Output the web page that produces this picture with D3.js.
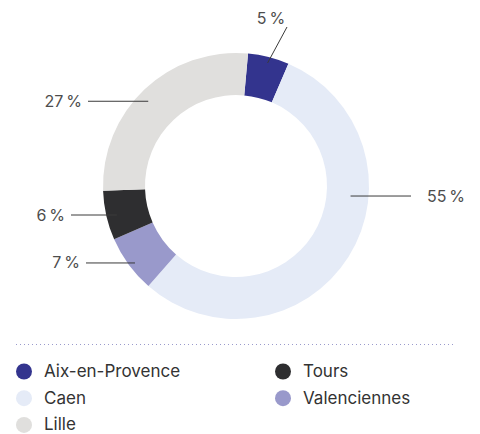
<!DOCTYPE html>
<html><head><meta charset="utf-8">
<script src="https://cdn.jsdelivr.net/npm/d3@7"></script>
<style>
html,body{margin:0;padding:0;background:#fff;}
svg{display:block;font-family:Inter,"Noto Sans",sans-serif;}
</style></head>
<body>
<svg id="chart" width="480" height="434"></svg>
<script>
// Data (in drawing order, clockwise)
const categories = ["Aix-en-Provence", "Caen", "Valenciennes", "Tours", "Lille"];
const values = [5, 55, 7, 6, 27];
const labels = ["5\u202F%", "55\u202F%", "7\u202F%", "6\u202F%", "27\u202F%"];
const colors = ["#33348e", "#e5ebf7", "#9999cb", "#2e2e30", "#e0dfdd"];
// Legend order
const legendCol1 = ["Aix-en-Provence", "Caen", "Lille"];
const legendCol2 = ["Tours", "Valenciennes"];

// Layout
const cx = 236, cy = 186, rOuter = 133, rInner = 91;
const startDeg = 5.2;
const leaders = {
  "Aix-en-Provence": {a: 14.4, r: 127, ex: 287, ey: 27, side: "top"},
  "Caen": {a: 95, r: 115, ex: 411, side: "right"},
  "Valenciennes": {a: 232.7, r: 127, ex: 86, side: "left"},
  "Tours": {a: 256.3, r: 122.5, ex: 71, side: "left"},
  "Lille": {a: 314, r: 122, ex: 88, side: "left"}
};

const svg = d3.select("#chart");
const g = svg.append("g").attr("transform", `translate(${cx},${cy})`);

const pie = d3.pie().sort(null).value(d => d.v)
  .startAngle(startDeg * Math.PI / 180)
  .endAngle((startDeg + 360) * Math.PI / 180);
const data = categories.map((c, i) => ({c, v: values[i], color: colors[i], label: labels[i]}));
const arcs = pie(data);
const arc = d3.arc().innerRadius(rInner).outerRadius(rOuter);

g.selectAll("path.slice").data(arcs).join("path")
  .attr("class", "slice")
  .attr("d", arc)
  .attr("fill", d => d.data.color);

const polar = (deg, r) => {
  const a = deg * Math.PI / 180;
  return [cx + r * Math.sin(a), cy - r * Math.cos(a)];
};

arcs.forEach(d => {
  const L = leaders[d.data.c];
  const [sx, sy] = polar(L.a, L.r);
  let ex, ey;
  if (L.side === "top") { ex = L.ex; ey = L.ey; }
  else { ex = L.ex; ey = sy; }
  svg.append("line")
    .attr("x1", sx).attr("y1", sy).attr("x2", ex).attr("y2", ey)
    .attr("stroke", "#3a3a3a").attr("stroke-width", 1);
  const t = svg.append("text")
    .attr("fill", "#4d4d4d").attr("font-size", 16).text(d.data.label);
  if (L.side === "top") {
    t.attr("x", ex - 16).attr("y", ey - 3).attr("text-anchor", "middle");
  } else if (L.side === "left") {
    t.attr("x", ex - 6).attr("y", ey + 5.5).attr("text-anchor", "end");
  } else {
    t.attr("x", ex + 16).attr("y", ey + 5.5).attr("text-anchor", "start");
  }
});

// Dotted separator
svg.append("line")
  .attr("x1", 16).attr("x2", 455).attr("y1", 344.5).attr("y2", 344.5)
  .attr("stroke", "#9a9acc").attr("stroke-width", 1)
  .attr("stroke-dasharray", "1,3");

// Legend
const colorOf = c => colors[categories.indexOf(c)];
const legendRow = 26.7, legendY0 = 371.5;
[[legendCol1, 24, 44], [legendCol2, 283, 303]].forEach(([items, dx, tx]) => {
  const lg = svg.append("g");
  items.forEach((c, i) => {
    const y = legendY0 + i * legendRow;
    lg.append("circle").attr("cx", dx).attr("cy", y).attr("r", 8).attr("fill", colorOf(c));
    lg.append("text").attr("x", tx).attr("y", y + 5.5)
      .attr("font-size", 17).attr("fill", "#333").text(c);
  });
});
</script>
</body></html>
